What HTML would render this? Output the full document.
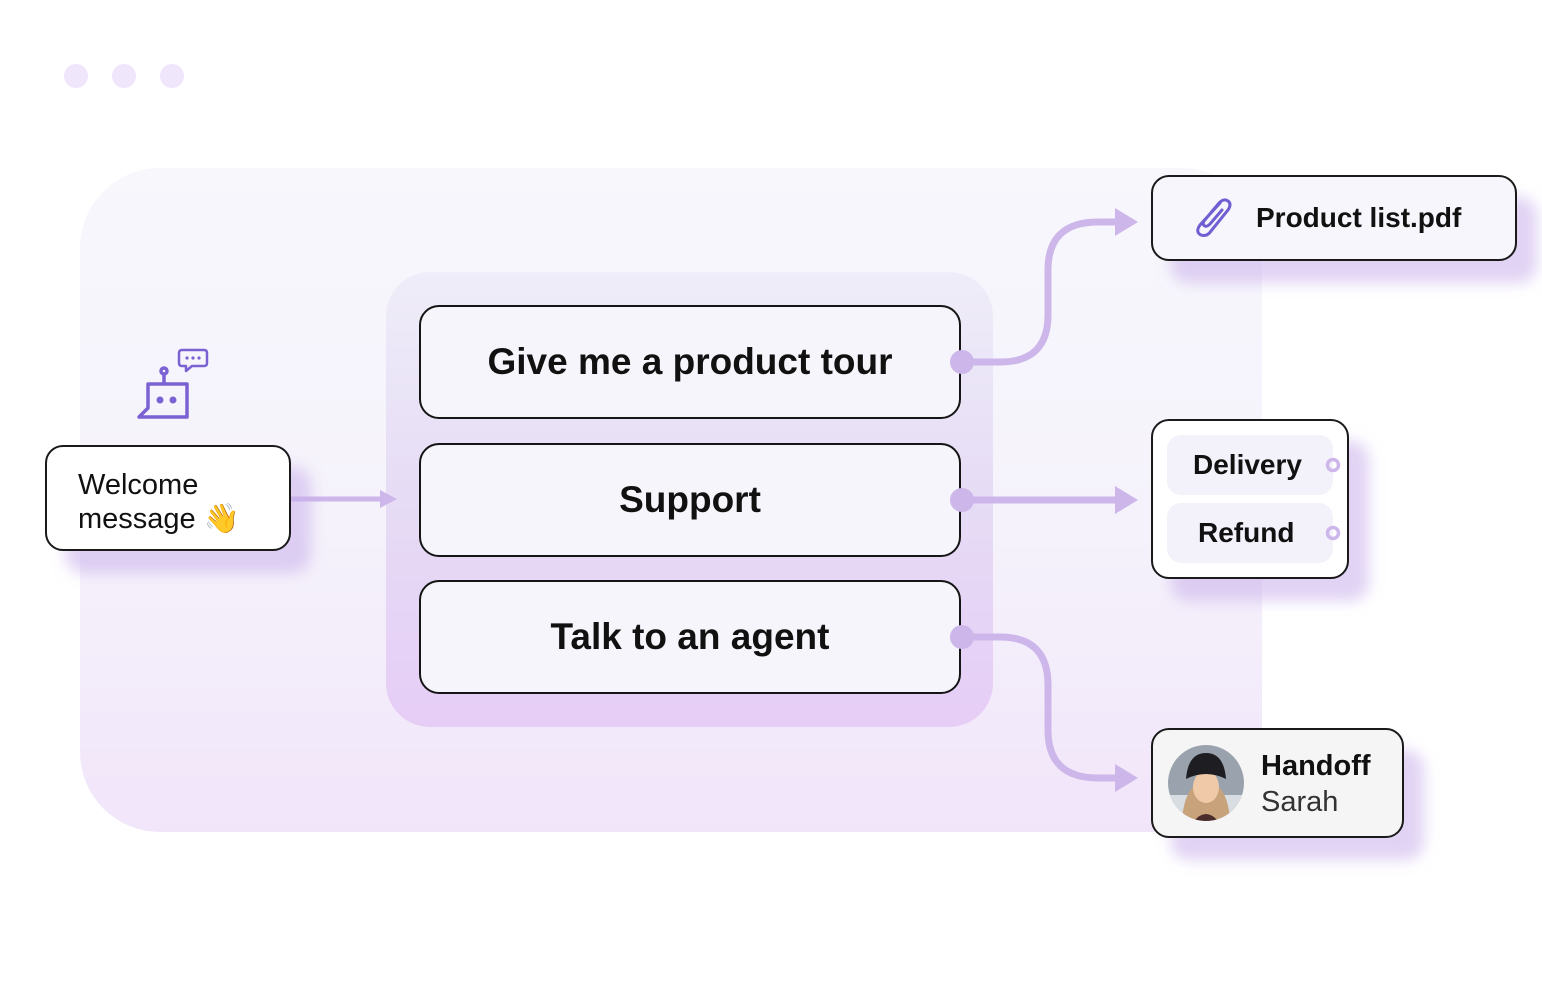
<!DOCTYPE html>
<html><head><meta charset="utf-8"><style>
body{margin:0;width:1542px;height:1000px;background:#fff;position:relative;overflow:hidden;font-family:"Liberation Sans",sans-serif;color:#111}
.a{position:absolute;box-sizing:border-box}
.bg{left:80px;top:168px;width:1182px;height:664px;border-radius:80px;background:linear-gradient(#f7f7fc 0%,#f5f2fb 55%,#f1e5fa 100%)}
.inner{left:386px;top:272px;width:607px;height:455px;border-radius:44px;background:linear-gradient(#efedf9 0%,#e6dcf5 50%,#e6cdf6 100%)}
.opt{left:419px;width:542px;height:114px;border:2.5px solid #151515;border-radius:20px;background:#f6f5fb;display:flex;align-items:center;justify-content:center;font-weight:bold;font-size:37px}
.card{border:2.5px solid #1a1a1a;border-radius:18px;box-shadow:20px 22px 14px rgba(200,175,235,.55)}
.dot{width:24px;height:24px;border-radius:50%;background:#f0e6fb}
</style></head><body>
<div class="a dot" style="left:64px;top:64px"></div>
<div class="a dot" style="left:112px;top:64px"></div>
<div class="a dot" style="left:160px;top:64px"></div>
<div class="a bg"></div>
<div class="a inner"></div>
<svg class="a" style="left:0;top:0" width="1542" height="1000">
 <g fill="none" stroke="#cdb6ea" stroke-width="7">
  <path d="M962 362 H1000 Q1048 362 1048 315 V270 Q1048 222 1098 222 H1118"/>
  <path d="M962 500 H1118"/>
  <path d="M962 637 H1000 Q1048 637 1048 685 V730 Q1048 778 1098 778 H1118"/>
 </g>
 <path d="M280 499 H384" stroke="#cdb6ea" stroke-width="5"/>
 <path d="M380 490 L397 499 L380 508Z" fill="#cdb6ea"/>
 <g fill="#cdb6ea">
  <path d="M1115 208 L1138 222 L1115 236Z"/>
  <path d="M1115 486 L1138 500 L1115 514Z"/>
  <path d="M1115 764 L1138 778 L1115 792Z"/>
 </g>
 <g fill="none" stroke="#7b62d3" stroke-width="3.5" stroke-linejoin="round">
  <path d="M148 384 H187 V417 H139 L148 408 Z"/>
  <path d="M164 384 V374"/><circle cx="164" cy="371" r="3"/>
  <path d="M182 350 H204 Q207 350 207 353 V363 Q207 366 204 366 H192 L186 371 V366 H182 Q179 366 179 363 V353 Q179 350 182 350Z" stroke-width="2.5"/>
 </g>
 <g fill="#7b62d3"><circle cx="160" cy="400" r="3.5"/><circle cx="173" cy="400" r="3.5"/>
 <circle cx="187" cy="358" r="1.6"/><circle cx="193" cy="358" r="1.6"/><circle cx="199" cy="358" r="1.6"/></g>
</svg>
<div class="a card" style="left:45px;top:445px;width:246px;height:106px;background:#fff;font-size:29px;line-height:34px;padding:21px 0 0 31px">Welcome<br>message 👋</div>
<div class="a opt" style="top:305px">Give me a product tour</div>
<div class="a opt" style="top:443px">Support</div>
<div class="a opt" style="top:580px">Talk to an agent</div>
<svg class="a" style="left:940px;top:340px" width="50" height="320"><g fill="#cdb6ea"><circle cx="22" cy="22" r="12"/><circle cx="22" cy="160" r="12"/><circle cx="22" cy="297" r="12"/></g></svg>
<div class="a card" style="left:1151px;top:175px;width:366px;height:86px;background:#f7f6fc;font-weight:bold;font-size:28px;padding:25px 0 0 103px">Product list.pdf</div>
<svg class="a" style="left:1190px;top:195px" width="48" height="44"><path d="M30 8 L10 30 Q5 37 11 40 Q17 42 21 36 L38 15 Q42 9 38 6 Q34 3 29 8 L14 26 Q12 30 15 31 Q17 32 20 29 L32 15" fill="none" stroke="#6f5fd2" stroke-width="3" stroke-linecap="round"/></svg>
<div class="a card" style="left:1151px;top:419px;width:198px;height:160px;background:#fff"></div>
<div class="a" style="left:1167px;top:435px;width:166px;height:60px;border-radius:14px;background:#f3f2fa;font-weight:bold;font-size:28px;line-height:60px;padding-left:26px">Delivery</div>
<div class="a" style="left:1167px;top:503px;width:166px;height:60px;border-radius:14px;background:#f3f2fa;font-weight:bold;font-size:28px;line-height:60px;padding-left:31px">Refund</div>
<svg class="a" style="left:1320px;top:450px" width="30" height="100"><g fill="none" stroke="#cdb6ea" stroke-width="3.5"><circle cx="13" cy="15" r="5.5"/><circle cx="13" cy="83" r="5.5"/></g></svg>
<div class="a card" style="left:1151px;top:728px;width:253px;height:110px;background:#f5f5f6"></div>
<svg class="a" style="left:1168px;top:745px" width="76" height="76"><defs><clipPath id="c"><circle cx="38" cy="38" r="38"/></clipPath></defs><g clip-path="url(#c)"><rect width="76" height="76" fill="#9aa3ad"/><rect y="50" width="76" height="26" fill="#d8dde2"/><path d="M14 76 Q16 40 38 34 Q60 40 62 76Z" fill="#c8a27a"/><ellipse cx="38" cy="42" rx="13" ry="16" fill="#f0c9a8"/><path d="M18 34 Q20 8 38 8 Q56 8 58 34 Q38 24 18 34Z" fill="#1d1d22"/><path d="M26 76 Q38 62 50 76Z" fill="#4a2c2c"/></g></svg>
<div class="a" style="left:1261px;top:748px;font-size:29px;line-height:36px"><b>Handoff</b><br><span style="color:#333">Sarah</span></div>
</body></html>
